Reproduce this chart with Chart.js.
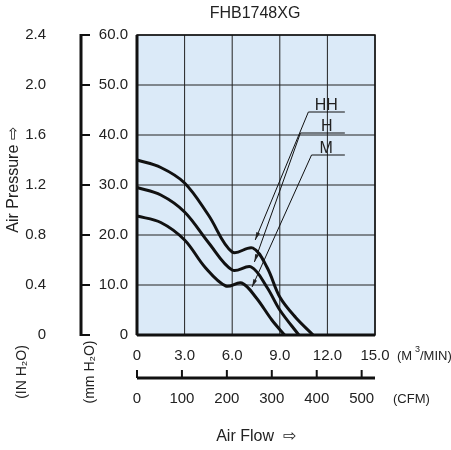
<!DOCTYPE html>
<html><head><meta charset="utf-8">
<script src="https://cdn.jsdelivr.net/npm/chart.js@4"></script>
<style>body{margin:0;background:#fff}</style>
</head><body>
<canvas id="c" width="451" height="450"></canvas>
<script>
// values (flow in M3/MIN, pressure in mmH2O)
const flowHH = [0, 1.5, 3, 4.5, 6, 7.3, 8.2, 9, 10, 11.1]
const presHH = [35, 33.5, 30.4, 24, 16.6, 17.4, 13.5, 7.6, 3.5, 0]
const flowH = [0, 1.5, 3, 4.5, 6, 7.2, 8.2, 9, 10.2]
const presH = [29.5, 28, 24.6, 18.5, 13, 13.6, 9.5, 5, 0]
const flowM = [0, 1.5, 3, 4.3, 5.6, 6.6, 7.5, 8.5, 9.3]
const presM = [23.8, 22.5, 19, 13.5, 9.8, 10.4, 7.5, 3, 0]
const mmTicks = [0, 10, 20, 30, 40, 50, 60]
const inTicks = [0, 0.4, 0.8, 1.2, 1.6, 2.0, 2.4]
const cmmTicks = [0, 3, 6, 9, 12, 15]
const cfmTicks = [0, 100, 200, 300, 400, 500]
const seriesNames = ['HH', 'H', 'M']

const pts = (xs, ys) => xs.map((x, i) => ({ x, y: ys[i] }))
const font = 'Arial, "Liberation Sans", sans-serif'

const decor = {
  id: 'decor',
  beforeDatasetsDraw(chart) {
    const { ctx, chartArea: a, scales } = chart
    ctx.save()
    ctx.fillStyle = '#dbeaf8'
    ctx.fillRect(a.left, a.top, a.right - a.left, a.bottom - a.top)
    ctx.strokeStyle = '#222'; ctx.lineWidth = 1
    cmmTicks.forEach(v => { const x = scales.x.getPixelForValue(v); ctx.beginPath(); ctx.moveTo(x, a.top); ctx.lineTo(x, a.bottom); ctx.stroke() })
    mmTicks.forEach(v => { const y = scales.y.getPixelForValue(v); ctx.beginPath(); ctx.moveTo(a.left, y); ctx.lineTo(a.right, y); ctx.stroke() })
    ctx.restore()
  },
  afterDatasetsDraw(chart) {
    const { ctx, chartArea: a, scales } = chart
    const X = scales.x, Y = scales.y, YI = scales.yIn, XC = scales.xCfm
    ctx.save()
    ctx.strokeStyle = '#111'; ctx.fillStyle = '#222'
    ctx.lineWidth = 1.5
    ctx.strokeRect(a.left, a.top, a.right - a.left, a.bottom - a.top)
    ctx.lineWidth = 3
    ctx.beginPath(); ctx.moveTo(a.left, a.bottom); ctx.lineTo(a.right, a.bottom); ctx.stroke()
    ctx.beginPath(); ctx.moveTo(a.left, a.top); ctx.lineTo(a.left, a.bottom); ctx.stroke()
    // mm axis (offset left)
    const ax = 81
    ctx.beginPath(); ctx.moveTo(ax, a.top - 1); ctx.lineTo(ax, a.bottom + 1); ctx.stroke()
    ctx.lineWidth = 2
    mmTicks.forEach(v => { const y = Y.getPixelForValue(v); ctx.beginPath(); ctx.moveTo(ax, y); ctx.lineTo(ax + 9, y); ctx.stroke() })
    ctx.font = '15px ' + font; ctx.textBaseline = 'middle'; ctx.textAlign = 'right'
    mmTicks.forEach(v => ctx.fillText(v === 0 ? '0' : v.toFixed(1), 128, Y.getPixelForValue(v)))
    inTicks.forEach(v => ctx.fillText(v === 0 ? '0' : v.toFixed(1), 46, YI.getPixelForValue(v)))
    // bottom axes
    ctx.textAlign = 'center'
    cmmTicks.forEach(v => ctx.fillText(v === 0 ? '0' : v.toFixed(1), X.getPixelForValue(v), 356))
    cfmTicks.forEach(v => ctx.fillText(String(v), XC.getPixelForValue(v), 399))
    ctx.lineWidth = 3
    const by = 378
    ctx.beginPath(); ctx.moveTo(a.left, by); ctx.lineTo(a.right, by); ctx.stroke()
    ctx.lineWidth = 2
    cfmTicks.forEach(v => { const x = XC.getPixelForValue(v); ctx.beginPath(); ctx.moveTo(x, by); ctx.lineTo(x, by - 8); ctx.stroke() })
    ctx.font = '13px ' + font; ctx.textAlign = 'left'
    ctx.fillText('(M', 397, 356); ctx.font = '9px ' + font; ctx.fillText('3', 415, 350)
    ctx.font = '13px ' + font; ctx.fillText('/MIN)', 420, 356)
    ctx.fillText('(CFM)', 393, 399)
    ctx.font = '16px ' + font; ctx.textAlign = 'center'
    ctx.fillText('FHB1748XG', 255, 14)
    ctx.fillText('Air Flow  \u21E8', 256, 437)
    const rot = (t, x, y, size) => { ctx.save(); ctx.translate(x, y); ctx.rotate(-Math.PI / 2); ctx.font = size + 'px ' + font; ctx.fillText(t, 0, 0); ctx.restore() }
    rot('Air Pressure \u21E8', 14, 180, 16)
    rot('(IN H\u2082O)', 22, 372, 14)
    rot('(mm H\u2082O)', 90, 372, 14)
    // series labels with leader lines (data coordinates)
    const P = (x, y) => [X.getPixelForValue(x), Y.getPixelForValue(y)]
    const leaders = [
      { name: seriesNames[0], lx: 11.2, ly: 44.6, ux: [10.8, 13.1], tip: [7.45, 19] },
      { name: seriesNames[1], lx: 11.6, ly: 40.4, ux: [10.3, 13.1], tip: [7.4, 14.6] },
      { name: seriesNames[2], lx: 11.5, ly: 36, ux: [11.0, 13.1], tip: [7.25, 9.6] }
    ]
    ctx.lineWidth = 1; ctx.font = '16px ' + font; ctx.textAlign = 'left'; ctx.textBaseline = 'alphabetic'
    leaders.forEach(l => {
      const [x0, y0] = P(l.ux[0], l.ly), [x1] = P(l.ux[1], l.ly), [tx, ty] = P(l.tip[0], l.tip[1])
      ctx.beginPath(); ctx.moveTo(x1, y0); ctx.lineTo(x0, y0); ctx.lineTo(tx, ty); ctx.stroke()
      const ang = Math.atan2(ty - y0, tx - x0)
      ctx.beginPath(); ctx.moveTo(tx, ty)
      ctx.lineTo(tx - 8 * Math.cos(ang - 0.25), ty - 8 * Math.sin(ang - 0.25))
      ctx.lineTo(tx - 8 * Math.cos(ang + 0.25), ty - 8 * Math.sin(ang + 0.25)); ctx.closePath(); ctx.fill()
      ctx.fillText(l.name, P(l.lx, 0)[0], y0 - 2)
    })
    ctx.restore()
  }
}

new Chart(document.getElementById('c'), {
  type: 'scatter',
  data: {
    datasets: [pts(flowHH, presHH), pts(flowH, presH), pts(flowM, presM)].map((d, i) => ({
      label: seriesNames[i], data: d, showLine: true, borderColor: '#111', borderWidth: 3,
      pointRadius: 0, tension: 0.35, clip: false
    }))
  },
  options: {
    responsive: false, animation: false, devicePixelRatio: 1,
    layout: { padding: { left: 137, right: 76, top: 35, bottom: 115 } },
    plugins: { legend: { display: false }, tooltip: { enabled: false } },
    scales: {
      x: { type: 'linear', min: 0, max: 15, display: false },
      xCfm: { type: 'linear', min: 0, max: 529.7, display: false },
      y: { type: 'linear', min: 0, max: 60, display: false },
      yIn: { type: 'linear', min: 0, max: 2.4, display: false }
    }
  },
  plugins: [decor]
})
</script>
</body></html>
